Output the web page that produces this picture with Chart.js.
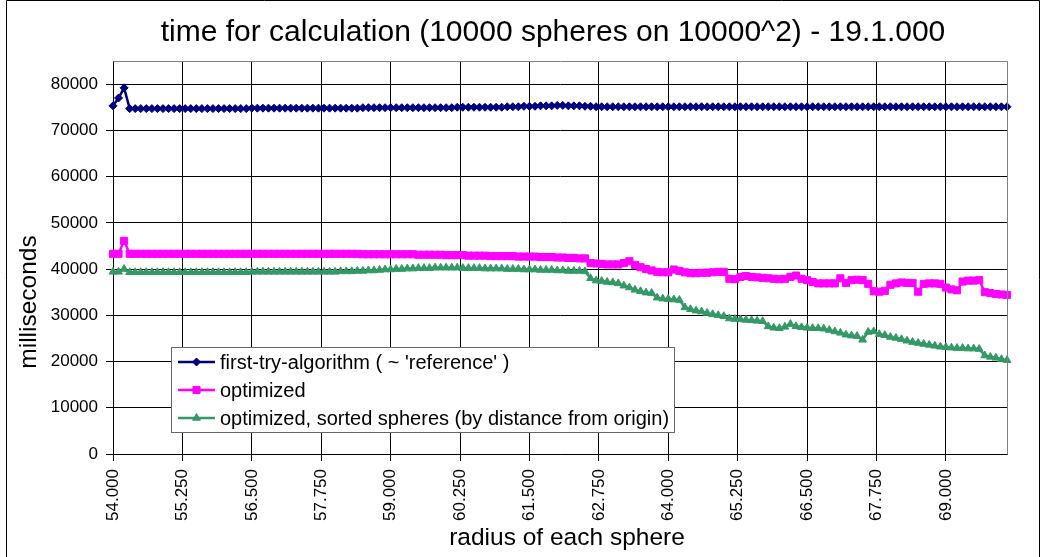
<!DOCTYPE html>
<html><head><meta charset="utf-8">
<script src="https://cdn.jsdelivr.net/npm/chart.js@4/dist/chart.umd.min.js"></script>
<style>html,body{margin:0;padding:0;background:#fff;}canvas{display:block;}</style>
</head><body>
<canvas id="c" width="1045" height="557"></canvas>
<script>
const titleText = 'time for calculation (10000 spheres on 10000^2) - 19.1.000';
const xTitle = 'radius of each sphere';
const yTitle = 'milliseconds';
const seriesLabels = ["first-try-algorithm ( ~ 'reference' )", 'optimized', 'optimized, sorted spheres (by distance from origin)'];
const seriesColors = ['#000080', '#FF00FF', '#339966'];
const seriesMarkers = ['rectRot', 'rect', 'triangle'];

const radius = [
54.0,54.1,54.2,54.3,54.4,54.5,54.6,54.7,54.8,54.9,
55.0,55.1,55.2,55.3,55.4,55.5,55.6,55.7,55.8,55.9,
56.0,56.1,56.2,56.3,56.4,56.5,56.6,56.7,56.8,56.9,
57.0,57.1,57.2,57.3,57.4,57.5,57.6,57.7,57.8,57.9,
58.0,58.1,58.2,58.3,58.4,58.5,58.6,58.7,58.8,58.9,
59.0,59.1,59.2,59.3,59.4,59.5,59.6,59.7,59.8,59.9,
60.0,60.1,60.2,60.3,60.4,60.5,60.6,60.7,60.8,60.9,
61.0,61.1,61.2,61.3,61.4,61.5,61.6,61.7,61.8,61.9,
62.0,62.1,62.2,62.3,62.4,62.5,62.6,62.7,62.8,62.9,
63.0,63.1,63.2,63.3,63.4,63.5,63.6,63.7,63.8,63.9,
64.0,64.1,64.2,64.3,64.4,64.5,64.6,64.7,64.8,64.9,
65.0,65.1,65.2,65.3,65.4,65.5,65.6,65.7,65.8,65.9,
66.0,66.1,66.2,66.3,66.4,66.5,66.6,66.7,66.8,66.9,
67.0,67.1,67.2,67.3,67.4,67.5,67.6,67.7,67.8,67.9,
68.0,68.1,68.2,68.3,68.4,68.5,68.6,68.7,68.8,68.9,
69.0,69.1,69.2,69.3,69.4,69.5,69.6,69.7,69.8,69.9,
70.0,70.1
];

const firstTry = [
75300,77000,79200,74700,74700,74700,74700,74700,74700,74700,
74700,74700,74700,74700,74700,74700,74700,74700,74700,74700,
74700,74700,74700,74700,74700,74800,74800,74800,74800,74800,
74800,74800,74800,74800,74800,74800,74800,74800,74800,74800,
74800,74800,74800,74800,74800,74900,74900,74900,74900,74900,
74900,74900,74900,74900,74900,74900,74900,74900,74900,74900,
74900,74900,75000,75000,75000,75000,75000,75000,75000,75000,
75000,75100,75100,75100,75200,75200,75200,75300,75300,75300,
75400,75400,75300,75300,75300,75200,75200,75100,75100,75100,
75100,75100,75100,75100,75100,75100,75100,75100,75100,75100,
75100,75100,75100,75100,75100,75100,75100,75100,75100,75100,
75100,75100,75100,75100,75100,75100,75100,75100,75100,75100,
75100,75100,75100,75100,75100,75100,75100,75100,75100,75100,
75100,75100,75100,75100,75100,75100,75100,75100,75100,75100,
75100,75100,75100,75100,75100,75100,75100,75100,75100,75100,
75100,75100,75100,75100,75100,75100,75100,75100,75100,75100,
75100,75100
];

const optimized = [
43300,43300,46100,43300,43300,43300,43300,43300,43300,43300,
43300,43300,43300,43300,43300,43300,43300,43300,43300,43300,
43300,43300,43300,43300,43300,43300,43300,43300,43300,43300,
43300,43300,43300,43300,43300,43300,43300,43300,43300,43300,
43300,43300,43300,43300,43300,43200,43200,43200,43200,43200,
43200,43200,43200,43200,43200,43100,43100,43100,43100,43100,
43000,43000,43000,43000,42900,42900,42900,42900,42800,42800,
42800,42800,42800,42700,42700,42700,42700,42600,42600,42600,
42500,42500,42400,42400,42300,42300,41300,41200,41100,41000,
41000,41000,41300,41700,40900,40400,40000,39700,39400,39300,
39300,39900,39600,39300,39100,39100,39200,39200,39300,39400,
39400,37900,37800,38300,38500,38300,38200,38100,38000,37900,
37800,37900,38300,38600,37900,37600,37200,36900,36900,36900,
36900,38000,37000,37600,37700,37600,36800,35200,35100,35300,
36600,36900,37100,37000,37000,35100,36800,36900,36900,36800,
36000,35600,35400,37300,37500,37500,37600,35000,34800,34600,
34500,34400
];

const optimizedSorted = [
39400,39400,40000,39300,39300,39300,39300,39300,39300,39300,
39300,39300,39300,39300,39300,39300,39300,39300,39300,39300,
39300,39300,39300,39300,39300,39400,39400,39400,39400,39400,
39400,39400,39400,39400,39400,39400,39400,39400,39400,39400,
39400,39500,39500,39500,39600,39600,39700,39700,39800,39900,
39900,40000,40000,40100,40100,40200,40200,40200,40300,40300,
40300,40300,40300,40200,40200,40200,40200,40100,40100,40100,
40100,40000,40000,40000,39900,39900,39900,39800,39800,39800,
39700,39700,39600,39600,39600,39500,38000,37500,37400,37200,
37100,36900,36400,36000,35500,35200,34900,34800,33800,33600,
33500,33400,33300,31700,31300,31000,30800,30500,30200,30000,
29800,29300,29200,29100,29000,28900,28800,28700,27600,27300,
27200,27500,28100,27600,27400,27300,27200,27200,27100,26800,
26500,26200,25800,25600,25500,24700,26400,26500,25900,25700,
25300,25100,24800,24500,24200,24000,23800,23600,23400,23200,
23100,23000,22900,22900,22800,22800,22700,21300,21000,20800,
20500,20300
];

const xTickValues = [54, 55.25, 56.5, 57.75, 59, 60.25, 61.5, 62.75, 64, 65.25, 66.5, 67.75, 69];
const yTickValues = [0, 10000, 20000, 30000, 40000, 50000, 60000, 70000, 80000];

const FONT = '"Liberation Sans", Arial, Helvetica, sans-serif';
const seriesValues = [firstTry, optimized, optimizedSorted];
const markerRadius = [4, 5, 4.5];

const datasets = seriesValues.map((vals, s) => ({
  label: seriesLabels[s],
  data: radius.map((x, i) => ({x: x, y: vals[i]})),
  borderColor: seriesColors[s],
  backgroundColor: seriesColors[s],
  pointBackgroundColor: seriesColors[s],
  pointBorderColor: seriesColors[s],
  pointStyle: seriesMarkers[s],
  pointRadius: markerRadius[s],
  pointBorderWidth: 1,
  borderWidth: 2.5,
  tension: 0,
  clip: false
}));

const decor = {
  id: 'decor',
  beforeDraw(chart) {
    const ctx = chart.ctx;
    ctx.save();
    ctx.fillStyle = '#fff';
    ctx.fillRect(0, 0, chart.width, chart.height);
    ctx.restore();
  },
  afterDraw(chart) {
    const ctx = chart.ctx;
    const a = chart.chartArea;
    ctx.save();
    ctx.strokeStyle = '#808080';
    ctx.lineWidth = 1;
    ctx.beginPath();
    ctx.moveTo(Math.round(a.left) + 0.5, Math.round(a.top) + 0.5);
    ctx.lineTo(Math.round(a.right) + 0.5, Math.round(a.top) + 0.5);
    ctx.lineTo(Math.round(a.right) + 0.5, Math.round(a.bottom) + 0.5);
    ctx.stroke();
    ctx.strokeStyle = '#000';
    ctx.beginPath();
    ctx.moveTo(6.5, 560);
    ctx.lineTo(6.5, 0.5);
    ctx.lineTo(1039.5, 0.5);
    ctx.lineTo(1039.5, 560);
    ctx.stroke();
    ctx.fillStyle = '#000';
    ctx.textAlign = 'center';
    ctx.textBaseline = 'middle';
    ctx.font = '30px ' + FONT;
    ctx.fillText(titleText, 553, 33);
    ctx.font = '24.5px ' + FONT;
    ctx.fillText(xTitle, 567, 538);
    ctx.save();
    ctx.translate(29, 302);
    ctx.rotate(-Math.PI / 2);
    ctx.fillText(yTitle, 0, 0);
    ctx.restore();
    ctx.font = '20px ' + FONT;
    const widths = seriesLabels.map(l => ctx.measureText(l).width);
    const boxL = 171, boxT = 347, boxB = 432, textX = 220;
    const boxR = Math.round(textX + Math.max(...widths) + 5);
    ctx.fillStyle = '#fff';
    ctx.fillRect(boxL, boxT, boxR - boxL, boxB - boxT);
    ctx.strokeStyle = '#666';
    ctx.lineWidth = 1;
    ctx.strokeRect(boxL + 0.5, boxT + 0.5, boxR - boxL, boxB - boxT);
    const rows = [362, 390, 418];
    seriesLabels.forEach((lab, s) => {
      const y = rows[s];
      ctx.strokeStyle = seriesColors[s];
      ctx.lineWidth = 2.5;
      ctx.beginPath();
      ctx.moveTo(178, y);
      ctx.lineTo(215, y);
      ctx.stroke();
      ctx.fillStyle = seriesColors[s];
      ctx.strokeStyle = seriesColors[s];
      ctx.lineWidth = 1;
      Chart.helpers.drawPoint(ctx, {pointStyle: seriesMarkers[s], radius: markerRadius[s], rotation: 0, borderWidth: 1}, 196.5, y);
      ctx.fillStyle = '#000';
      ctx.textAlign = 'left';
      ctx.textBaseline = 'middle';
      ctx.fillText(lab, textX, y + 1);
    });
    ctx.restore();
  }
};

new Chart(document.getElementById('c'), {
  type: 'line',
  data: {datasets: datasets},
  plugins: [decor],
  options: {
    responsive: false,
    animation: false,
    devicePixelRatio: 1,
    layout: {padding: {top: 61, right: 38, left: 0, bottom: 0}},
    plugins: {legend: {display: false}, title: {display: false}, tooltip: {enabled: false}},
    scales: {
      x: {
        type: 'linear', min: 54, max: 70.1,
        afterBuildTicks: s => { s.ticks = xTickValues.map(v => ({value: v})); },
        afterFit: s => { s.height = 103; },
        ticks: {autoSkip: false, minRotation: 90, maxRotation: 90, padding: 8, color: '#000',
          font: {family: FONT, size: 17}, callback: v => Number(v).toFixed(3)},
        grid: {color: '#000', lineWidth: 1, tickLength: 7, tickColor: '#000'},
        border: {color: '#000', width: 1}
      },
      y: {
        min: 0, max: 85000,
        afterBuildTicks: s => { s.ticks = yTickValues.map(v => ({value: v})); },
        afterFit: s => { s.width = 113; },
        ticks: {padding: 8, color: '#000', font: {family: FONT, size: 17}, callback: v => String(v)},
        grid: {color: '#000', lineWidth: 1, tickLength: 7, tickColor: '#000'},
        border: {color: '#000', width: 1}
      }
    }
  }
});
</script>
</body></html>
